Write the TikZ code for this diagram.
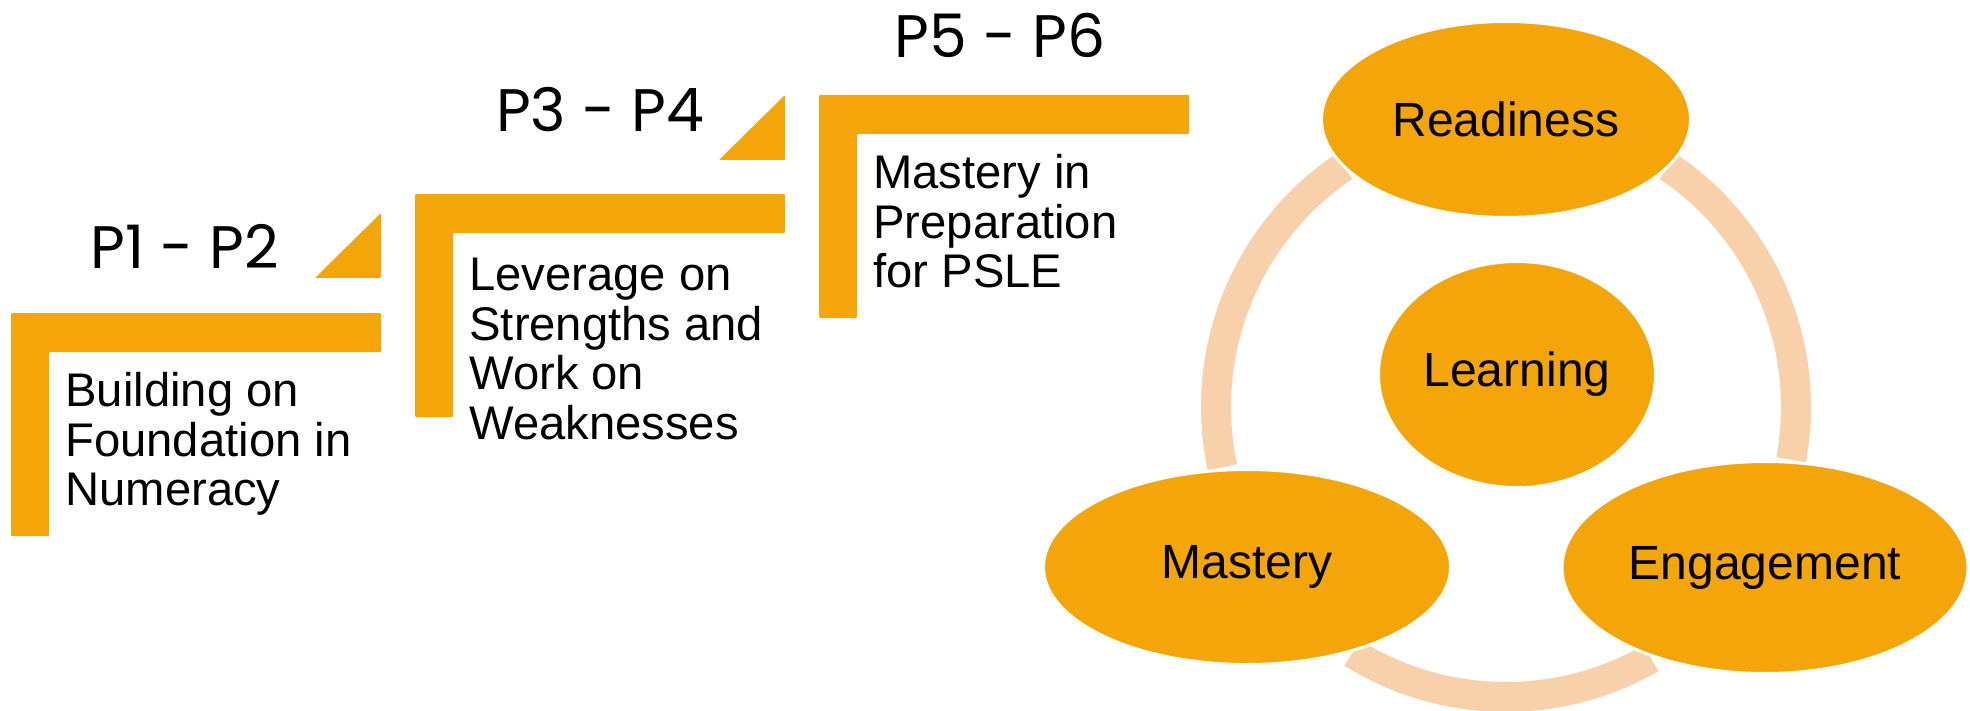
\documentclass[tikz,border=0pt]{standalone}
\usepackage{fontspec}
\setmainfont{Liberation Sans}
\newfontfamily\stepfont{Poppins}
\usetikzlibrary{shapes.geometric}
\definecolor{stepor}{HTML}{F4A50A}
\definecolor{ringpe}{HTML}{F8D0AA}
\tikzset{
  stair/.style={fill=stepor,rounded corners=0.5pt},
  lbl/.style={font=\stepfont\fontsize{30}{36}\selectfont,anchor=base,inner sep=0},
  desc/.style={font=\fontsize{23.6}{24.75}\selectfont,align=left,anchor=north west,inner sep=0},
  blob/.style={ellipse,fill=stepor,draw=white,line width=1.5pt,inner sep=0,font=\fontsize{24}{29}\selectfont},
  ring/.style={draw=ringpe,line width=15pt}
}
\begin{document}
\begin{tikzpicture}[x=0.5pt,y=-0.5pt]
\useasboundingbox (0,0) rectangle (1970,711);
\foreach \x/\y in {11/313,415/194,819/95}
{\fill[stair] (\x,\y) -- ++(370,0) -- ++(0,39) -- ++(-332,0) -- ++(0,184) -- ++(-38,0) -- cycle;}
\foreach \x/\y in {381/278,785/160}
{\fill[stair] (\x,\y) -- ++(-66,0) -- ++(66,-65) -- cycle;}
\node[lbl] (p12) at (185,269) {P1 - P2};
\node[lbl] (p34) at (600,132) {P3 - P4};
\node[lbl] (p56) at (1000,58) {P5 - P6};
\node[desc] (txt1) at (65,372) {Building on\\Foundation in\\Numeracy};
\node[desc] (txt2) at (469,258) {Leverage on\\Strengths and\\Work on\\Weaknesses};
\node[desc] (txt3) at (873,154) {Mastery in\\Preparation\\for PSLE};
\coordinate (cyc) at (1506,407);
\draw[ring] (cyc) ++(168:290) arc[start angle=168,end angle=236,radius=290];
\draw[ring] (cyc) ++(-56:290) arc[start angle=-56,end angle=10.5,radius=290];
\draw[ring] (cyc) ++(60:290) arc[start angle=60,end angle=122,radius=290];
\node[blob,minimum width=184.5pt,minimum height=98pt] (read) at (1506,119.5) {Readiness};
\node[blob,minimum width=138.5pt,minimum height=113pt] (lrn) at (1517,374.5) {Learning};
\node[blob,minimum width=203pt,minimum height=106pt] (eng) at (1765,567.5) {Engagement};
\node[blob,minimum width=203.5pt,minimum height=97.5pt] (mast) at (1247,567) {Mastery};
\end{tikzpicture}
\end{document}
